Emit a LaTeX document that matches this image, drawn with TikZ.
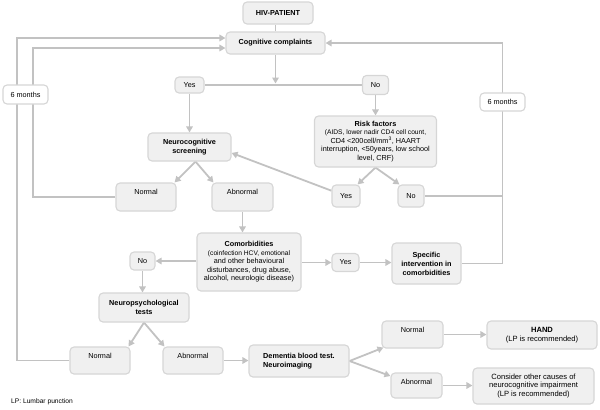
\documentclass[tikz,border=0pt]{standalone}
\usepackage{fontspec}
\setmainfont{Liberation Sans}
\usetikzlibrary{arrows.meta,calc}
\definecolor{boxfill}{HTML}{F0F0F0}
\definecolor{boxdraw}{HTML}{D6D6D6}
\definecolor{linec}{HTML}{C2C2C2}
\pgfdeclarelayer{bg}
\pgfsetlayers{bg,main}
\begin{document}
\begin{tikzpicture}[x=1bp,y=-1bp,
  box/.style={draw=boxdraw, fill=boxfill, rounded corners=4bp, line width=1.1bp, inner sep=3bp, align=center, font=\fontsize{7.3}{8.5}\selectfont},
  bf/.style={font=\fontsize{7.3}{8.5}\selectfont\bfseries},
  sz/.style 2 args={minimum width=#1bp, minimum height=#2bp},
  tbox/.style 2 args={box, minimum width=#1bp, text height=8.5bp, text depth=#2bp},
  ln/.style={draw=linec, line width=1.8bp},
  arr/.style={ln, -{Triangle[length=6bp,width=6.5bp]}},
  small/.style={font=\fontsize{6.7}{7.6}\selectfont}
]
\useasboundingbox (0,0) rectangle (600,409);

% nodes
\node[box,bf,sz={70}{22}] (hiv) at (278,13) {HIV-PATIENT};
\node[box,bf,sz={99}{22}] (cc) at (275.5,43) {Cognitive complaints};
\node[box,sz={29}{16}] (yes1) at (189.5,85) {Yes};
\node[box,sz={26}{19}] (no1) at (375.5,85) {No};
\node[box,sz={122}{51}] (risk) at (375.5,141.5) {{\bfseries Risk factors}\\[-0.5bp]\fontsize{6.7}{7.5}\selectfont (AIDS, lower nadir CD4 cell count,\\CD4 <200cell/mm\textsuperscript{3}, HAART\\interruption, <50years, low school\\level, CRF)};
\node[box,sz={45}{19},fill=white] (m1) at (25.5,94.5) {6 months};
\node[box,sz={45}{18},fill=white] (m2) at (502.5,102) {6 months};
\node[box,bf,sz={83}{28}] (ncs) at (189.5,147) {Neurocognitive\\screening};
\node[tbox={60}{13.5}] (n1) at (146,197) {Normal};
\node[tbox={61}{13.5}] (a1) at (242.5,197) {Abnormal};
\node[box,sz={28}{22}] (y2) at (346,196) {Yes};
\node[box,sz={26}{22}] (no2) at (411,196) {No};
\node[box,sz={104}{58}] (com) at (249,262) {{\bfseries Comorbidities}\\\fontsize{6.7}{7.8}\selectfont (coinfection HCV, emotional\\and other behavioural\\disturbances, drug abuse,\\alcohol, neurologic disease)};
\node[box,sz={25}{18}] (no3) at (142.5,261) {No};
\node[box,sz={27}{18}] (y3) at (345.5,262.5) {Yes};
\node[box,sz={69}{41},font=\fontsize{7.3}{9}\selectfont\bfseries] (spec) at (426.5,263.5) {Specific\\intervention in\\comorbidities};
\node[box,bf,sz={90}{29}] (npt) at (144,307.5) {Neuropsychological\\tests};
\node[tbox={60}{12.5}] (n2) at (100,360.5) {Normal};
\node[tbox={60}{12.5}] (a2) at (193,360.5) {Abnormal};
\node[box,bf,sz={100}{32},align=left] (dem) at (299,361) {Dementia blood test.\\Neuroimaging};
\node[tbox={61}{12.5}] (n3) at (412.5,334.5) {Normal};
\node[tbox={51}{10.5}] (a3) at (416.5,385.5) {Abnormal};
\node[box,sz={110}{28},font=\fontsize{7.6}{9}\selectfont] (hand) at (542,335) {{\bfseries HAND}\\(LP is recommended)};
\node[box,sz={121}{36},font=\fontsize{7.6}{9}\selectfont] (cons) at (533.5,386) {Consider other causes of\\neurocognitive impairment\\(LP is recommended)};
\node[small,anchor=west,inner sep=0pt] (lp) at (11,402) {LP: Lumbar punction};

% helper coordinates
\coordinate (L1) at (17,0);
\coordinate (L2) at (33,0);
\coordinate (j1) at (275.5,83.5);
\coordinate (ccw1) at ($(cc.west)+(0,-5)$);
\coordinate (ccw2) at ($(cc.west)+(0,5)$);
\coordinate (ncsb) at ($(ncs.south)+(6,0)$);

\begin{pgfonlayer}{bg}
\draw[ln] (cc.north) -- (cc.north |- hiv.south);
\draw[arr] (cc.south) -- (j1);
\draw[ln] (yes1.east) -- (no1.west);
\draw[arr] (yes1.south) -- (ncs.north);
\draw[arr] (no1.south) -- (no1.south |- risk.north);
\draw[arr] (risk.south) -- (y2.45);
\draw[arr] (risk.south) -- (no2.135);
\draw[arr] (y2.160) -- (ncs.-8);
\draw[ln] (no2.east) -- (no2.east -| m2);
\draw[arr] (spec.east) -- (spec.east -| m2) -- (m2.north |- cc.east) -- (cc.east);
\draw[arr] (n2.west) -- (n2.west -| L1) -- (L1 |- ccw1) -- (ccw1);
\draw[arr] (n1.west) -- (n1.west -| L2) -- (L2 |- ccw2) -- (ccw2);
\draw[arr] (ncsb) -- ($(n1.north east)+(-2,0)$);
\draw[arr] (ncsb) -- ($(a1.north west)+(2,0)$);
\draw[arr] (a1.south) -- (a1.south |- com.north);
\draw[arr] (no3.east -| com.west) -- (no3.east);
\draw[arr] (no3.south) -- (no3.south |- npt.north);
\draw[arr] (y3.west -| com.east) -- (y3.west);
\draw[arr] (y3.east) -- (y3.east -| spec.west);
\draw[arr] (npt.south) -- ($(n2.north east)+(-2,0)$);
\draw[arr] (npt.south) -- ($(a2.north west)+(2,0)$);
\draw[arr] (a2.east) -- (a2.east -| dem.west);
\draw[arr] (dem.east) -- ($(n3.south west)+(2,-1)$);
\draw[arr] (dem.east) -- (a3.160);
\draw[arr] (n3.east) -- (n3.east -| hand.west);
\draw[arr] (a3.east) -- (a3.east -| cons.west);
\end{pgfonlayer}
\end{tikzpicture}
\end{document}
